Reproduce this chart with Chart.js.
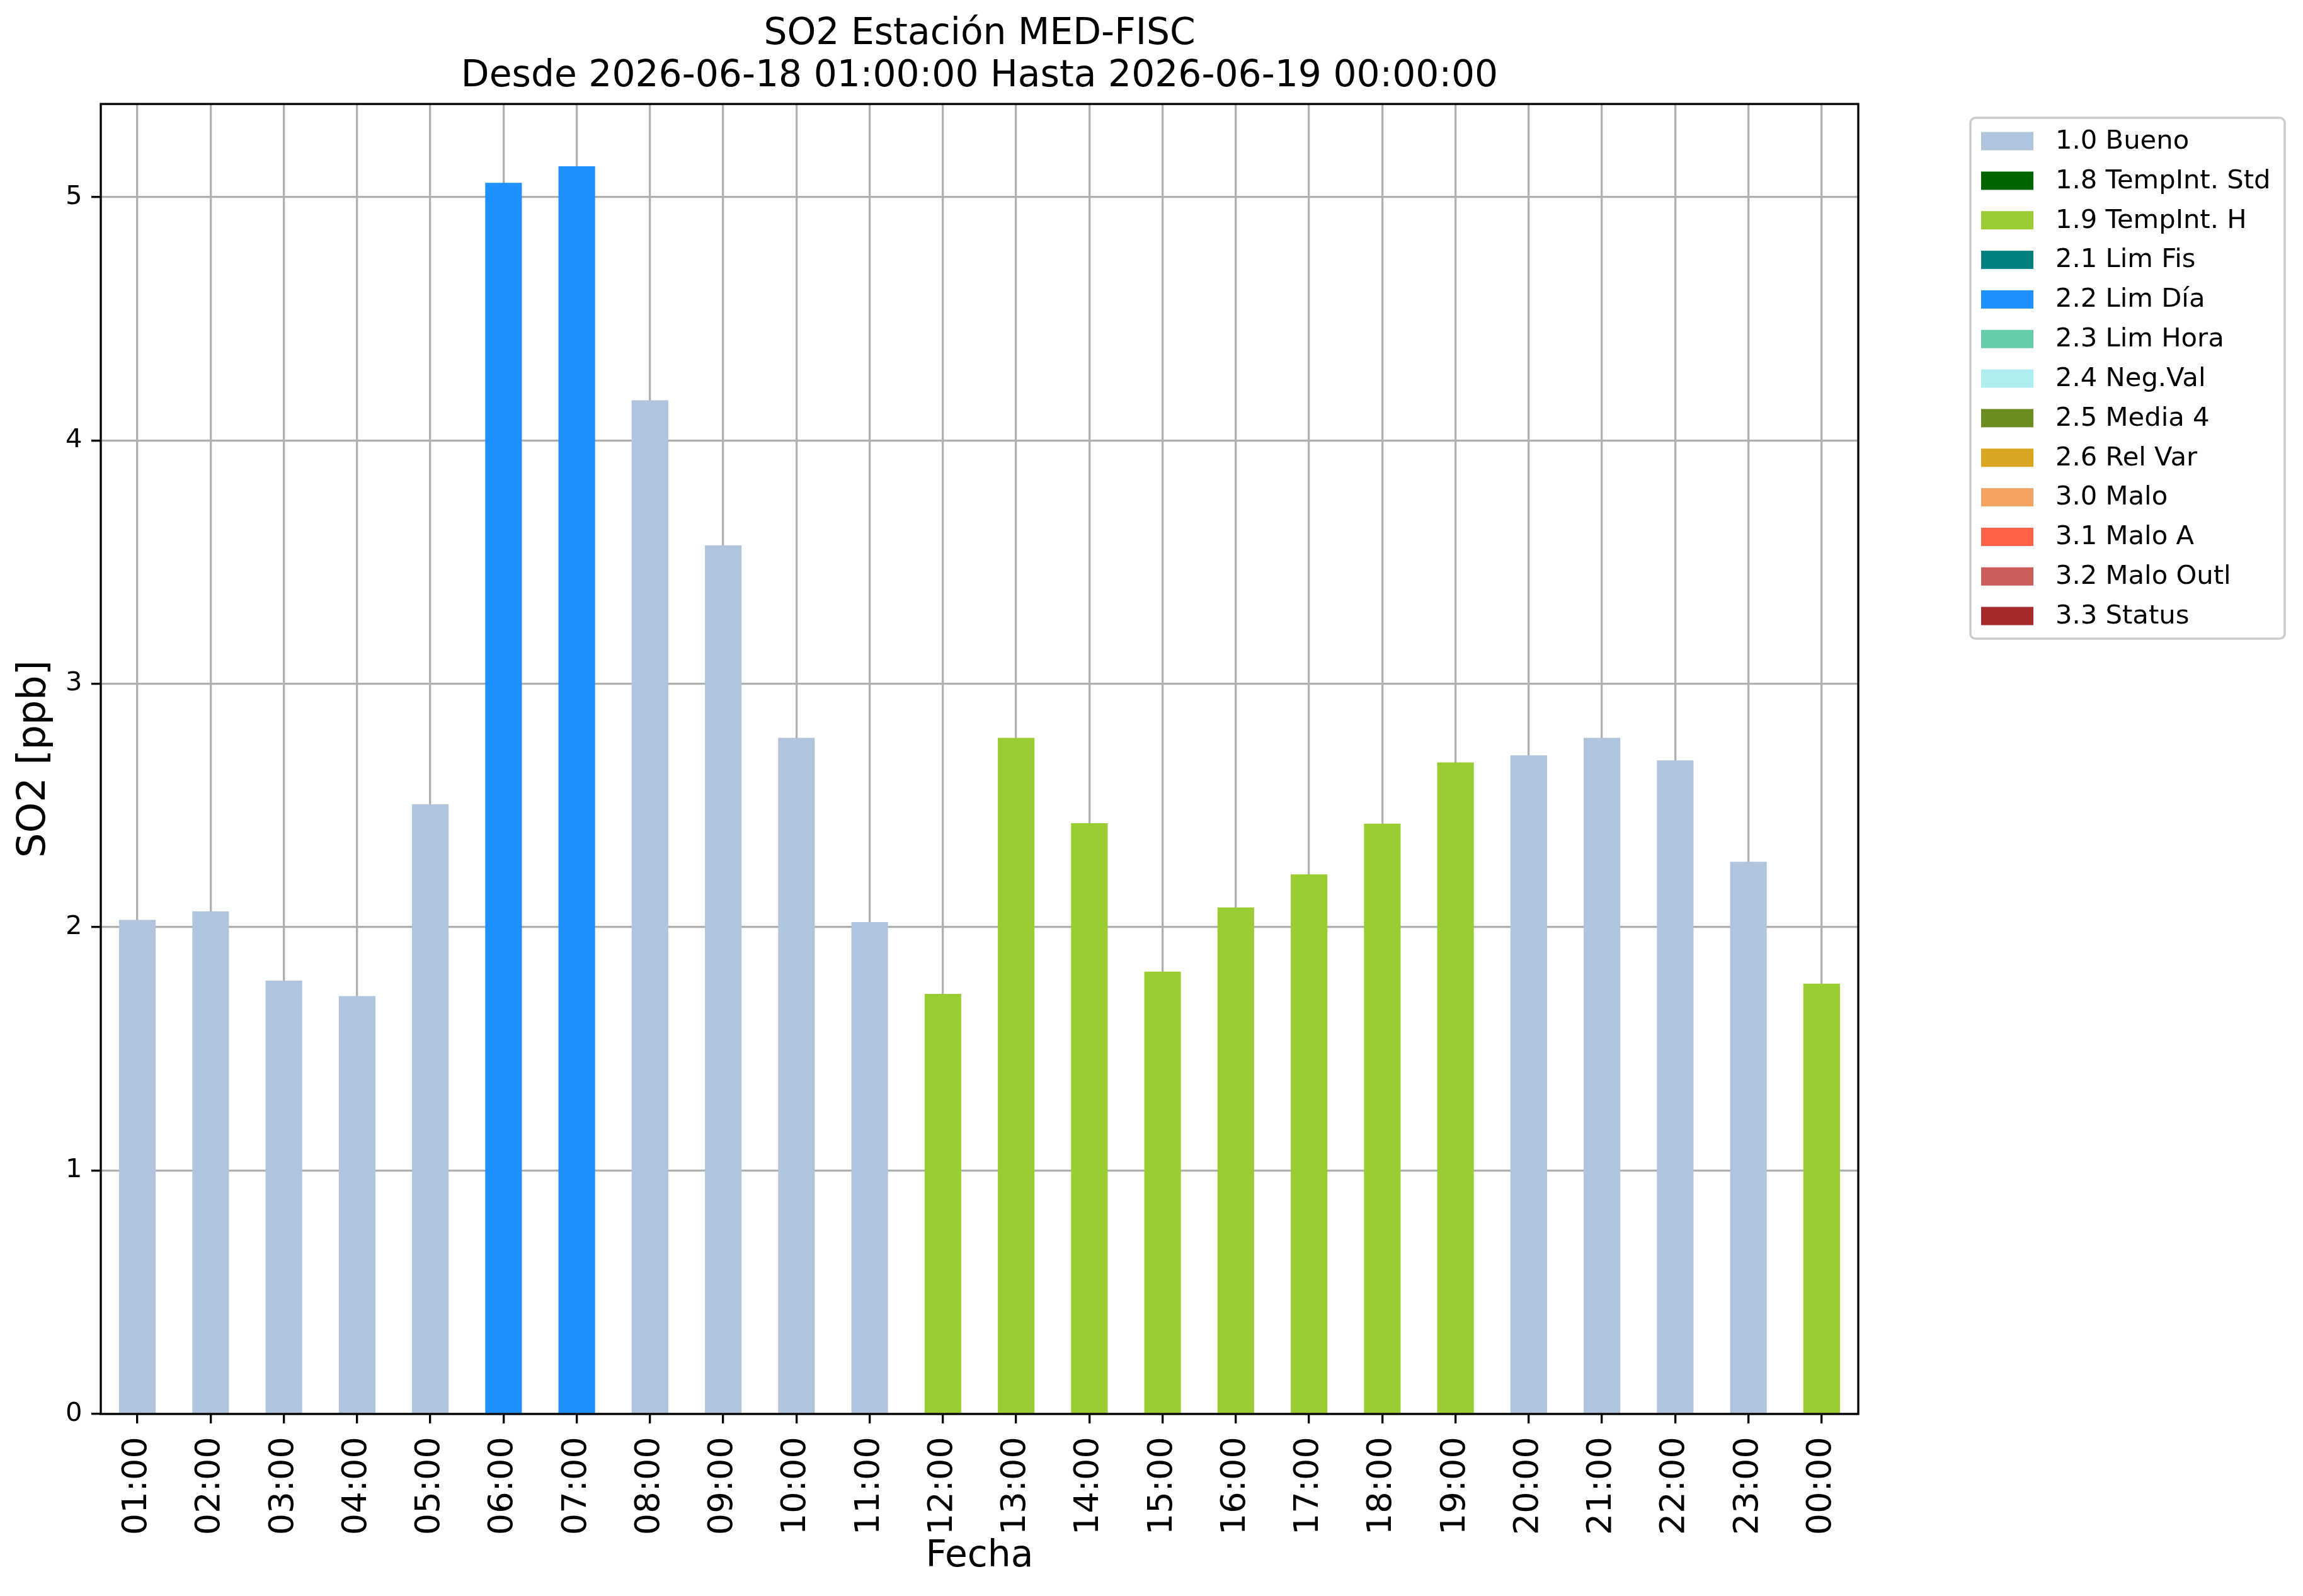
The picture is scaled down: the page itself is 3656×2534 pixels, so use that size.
<!DOCTYPE html>
<html>
<head>
<meta charset="utf-8">
<script src="https://cdn.jsdelivr.net/npm/chart.js@4/dist/chart.umd.min.js"></script>
<style>
  html, body { margin: 0; padding: 0; background: #fff; overflow: hidden; }
  #wrap { width: 3656px; height: 2534px; }
</style>
</head>
<body>
<div id="wrap"><canvas id="so2" width="3656" height="2534" style="width:3656px;height:2534px"></canvas></div>
<script>
// horas del eje x
const hours = ['01:00', '02:00', '03:00', '04:00', '05:00', '06:00', '07:00', '08:00',
  '09:00', '10:00', '11:00', '12:00', '13:00', '14:00', '15:00', '16:00',
  '17:00', '18:00', '19:00', '20:00', '21:00', '22:00', '23:00', '00:00'];

// SO2 [ppb] por hora
const so2Values = [2.03, 2.065, 1.78, 1.717, 2.505, 5.058, 5.126, 4.165,
  3.569, 2.778, 2.021, 1.726, 2.778, 2.427, 1.817, 2.081,
  2.217, 2.425, 2.677, 2.706, 2.778, 2.685, 2.269, 1.768];

// bandera de validación de cada hora
const hourFlags = ['1.0', '1.0', '1.0', '1.0', '1.0', '2.2', '2.2', '1.0',
  '1.0', '1.0', '1.0', '1.9', '1.9', '1.9', '1.9', '1.9',
  '1.9', '1.9', '1.9', '1.0', '1.0', '1.0', '1.0', '1.9'];

// leyenda: códigos, nombres y colores
const flagCodes = ['1.0', '1.8', '1.9', '2.1', '2.2', '2.3', '2.4', '2.5', '2.6', '3.0', '3.1', '3.2', '3.3'];
const flagNames = ['Bueno', 'TempInt. Std', 'TempInt. H', 'Lim Fis', 'Lim Día', 'Lim Hora',
  'Neg.Val', 'Media 4', 'Rel Var', 'Malo', 'Malo A', 'Malo Outl', 'Status'];
const flagColors = ['#b0c4de', '#006400', '#9acd32', '#008080', '#1e90ff', '#66cdaa',
  '#afeeee', '#6b8e23', '#daa520', '#f4a460', '#ff6347', '#cd5c5c', '#a52a2a'];

const yTicks = [0, 1, 2, 3, 4, 5];

const FONT = "'DejaVu Sans', sans-serif";
const LW = 3.33; // 0.8pt a 300 dpi

Chart.defaults.font.family = FONT;
Chart.defaults.color = '#000';

// color de cada barra según su bandera
const barColors = hourFlags.map(f => flagColors[flagCodes.indexOf(f)]);

// marco completo del área de dibujo
const axesFrame = {
  id: 'axesFrame',
  afterDraw(chart) {
    const { ctx, chartArea: a } = chart;
    ctx.save();
    ctx.strokeStyle = '#000';
    ctx.lineWidth = LW;
    ctx.strokeRect(a.left, a.top, a.right - a.left, a.bottom - a.top);
    ctx.restore();
  }
};

// leyenda fuera del gráfico, arriba a la derecha
const flagLegend = {
  id: 'flagLegend',
  afterDraw(chart) {
    const { ctx, chartArea: a } = chart;
    const x0 = a.right + 178, y0 = a.top + 22;
    const rowH = 62.83;
    ctx.save();
    ctx.beginPath();
    ctx.roundRect(x0, y0, 499, 827, 8);
    ctx.fillStyle = 'rgba(255,255,255,0.8)';
    ctx.fill();
    ctx.strokeStyle = '#cccccc';
    ctx.lineWidth = 3.5;
    ctx.stroke();
    ctx.font = '41.7px ' + FONT;
    ctx.textBaseline = 'middle';
    ctx.textAlign = 'left';
    flagCodes.forEach((code, i) => {
      const cy = y0 + 37 + i * rowH;
      ctx.fillStyle = flagColors[i];
      ctx.fillRect(x0 + 17, cy - 14.5, 83, 29);
      ctx.fillStyle = '#000';
      ctx.fillText(code + ' ' + flagNames[i], x0 + 135, cy + 1);
    });
    ctx.restore();
  }
};

new Chart(document.getElementById('so2'), {
  type: 'bar',
  data: {
    labels: hours,
    datasets: [{
      label: 'SO2',
      data: so2Values,
      backgroundColor: barColors,
      borderWidth: 0,
      barPercentage: 0.5,
      categoryPercentage: 1.0
    }]
  },
  options: {
    responsive: false,
    devicePixelRatio: 1,
    animation: false,
    layout: { padding: { left: 0, right: 706, top: 0, bottom: 0 } },
    plugins: {
      legend: { display: false },
      tooltip: { enabled: false },
      title: {
        display: true,
        fullSize: false,
        text: ['SO2 Estación MED-FISC', 'Desde 2026-06-18 01:00:00 Hasta 2026-06-19 00:00:00'],
        color: '#000',
        font: { size: 58.3, weight: 'normal', lineHeight: 1.15 },
        padding: { top: 21.5, bottom: 9.5 }
      }
    },
    scales: {
      x: {
        offset: true,
        z: 1,
        border: { display: false },
        grid: { offset: false, color: '#b0b0b0', lineWidth: LW, tickLength: 15, tickColor: '#000', tickWidth: LW },
        ticks: { autoSkip: false, maxRotation: 90, minRotation: 90, padding: 21, color: '#000', font: { size: 54.2 } },
        title: { display: true, text: 'Fecha', color: '#000', font: { size: 58.3 }, padding: { top: 0, bottom: 27.5 } },
        afterFit(scale) { scale.height = 289; }
      },
      y: {
        min: 0,
        max: 5.382,
        z: 1,
        border: { display: false },
        grid: { color: '#b0b0b0', lineWidth: LW, tickLength: 15, tickColor: '#000', tickWidth: LW },
        ticks: { stepSize: 1, includeBounds: false, padding: 14.5, color: '#000', font: { size: 41.7 } },
        afterBuildTicks(scale) { scale.ticks = yTicks.map(v => ({ value: v })); },
        title: { display: true, text: 'SO2 [ppb]', color: '#000', font: { size: 62 }, padding: { top: 18, bottom: 0 } },
        afterFit(scale) { scale.width = 160; }
      }
    }
  },
  plugins: [axesFrame, flagLegend]
});
</script>
</body>
</html>
